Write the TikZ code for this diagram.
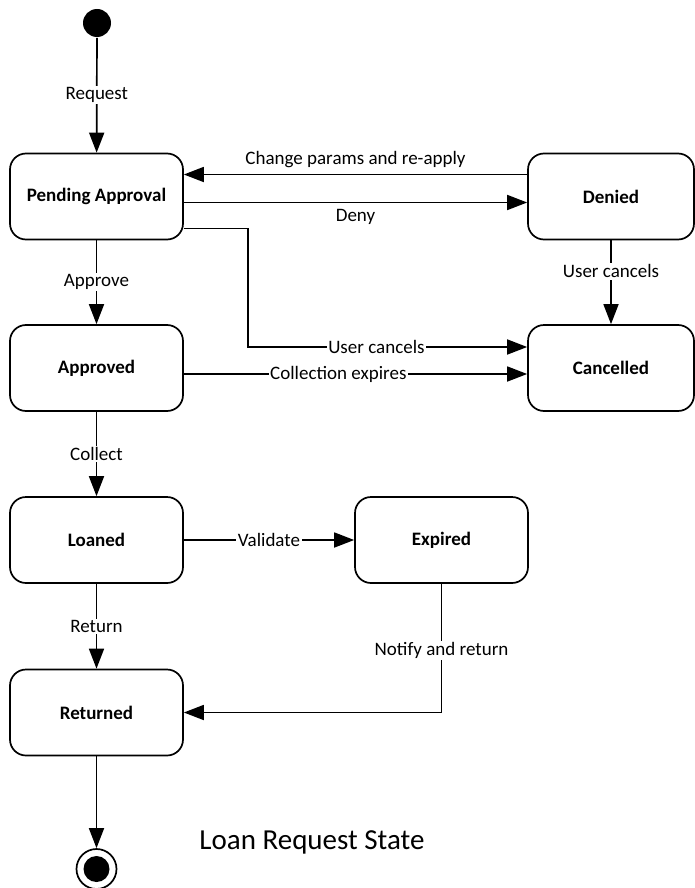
\documentclass[tikz,border=0pt]{standalone}
\usepackage{fontspec}
\setmainfont{Carlito}
\usetikzlibrary{arrows.meta}
\begin{document}
\begin{tikzpicture}[x=1pt,y=-1pt,line width=1.7pt,
  state/.style={draw,rounded corners=16pt,minimum width=173pt,minimum height=86pt,inner sep=0pt,font=\fontsize{19}{22}\selectfont\bfseries},
  lbl/.style={fill=white,inner sep=1.5pt,font=\fontsize{19}{22}\selectfont},
  arr/.style={-{Triangle[length=20pt,width=15pt]}}
]
\useasboundingbox (0,0) rectangle (695,888);
% nodes
\node[circle,fill=black,minimum size=28pt,inner sep=0pt] (start) at (97,23) {};
\node[state] (pa) at (96.5,196.5) {Pending Approval};
\node[state,minimum width=166pt] (den) at (611,196.5) {Denied};
\node[state] (ap) at (96.5,368) {Approved};
\node[state,minimum width=166pt] (can) at (611,368) {Cancelled};
\node[state] (loan) at (96.5,540) {Loaned};
\node[state] (exp) at (441.5,540) {Expired};
\node[state] (ret) at (96.5,712.5) {Returned};
\node[circle,draw,line width=1.7pt,minimum size=40pt,inner sep=0pt] (fin) at (96.5,869) {};
\fill (fin.center) circle (13pt);
\node[font=\fontsize{29}{33}\selectfont] (title) at (312,842) {Loan Request State};
% edges
\draw[arr] (start) -- node[lbl] {Request} (pa);
\draw[arr] ([yshift=22pt]den.west) -- node[lbl,above=4pt,fill=none] {Change params and re-apply} ([yshift=22pt]pa.east);
\draw[arr] ([yshift=-6pt]pa.east) -- node[lbl,below=4pt,fill=none] {Deny} ([yshift=-6pt]den.west);
\coordinate (c1) at (248,347);
\draw[arr] ([yshift=-32pt]pa.east) -| (c1) -- node[lbl,pos=0.46] {User cancels} ([yshift=21pt]can.west);
\draw[arr] (den) -- node[lbl,pos=0.37] {User cancels} (can);
\draw[arr] (pa) -- node[lbl] {Approve} (ap);
\draw[arr] ([yshift=-6pt]ap.east) -- node[lbl,pos=0.45] {Collection expires} ([yshift=-6pt]can.west);
\draw[arr] (ap) -- node[lbl] {Collect} (loan);
\draw[arr] (loan) -- node[lbl] {Validate} (exp);
\draw[arr] (loan) -- node[lbl] {Return} (ret);
\draw[arr] (exp) |- node[lbl,pos=0.26] {Notify and return} (ret);
\draw[arr] (ret) -- (fin);
\end{tikzpicture}
\end{document}
